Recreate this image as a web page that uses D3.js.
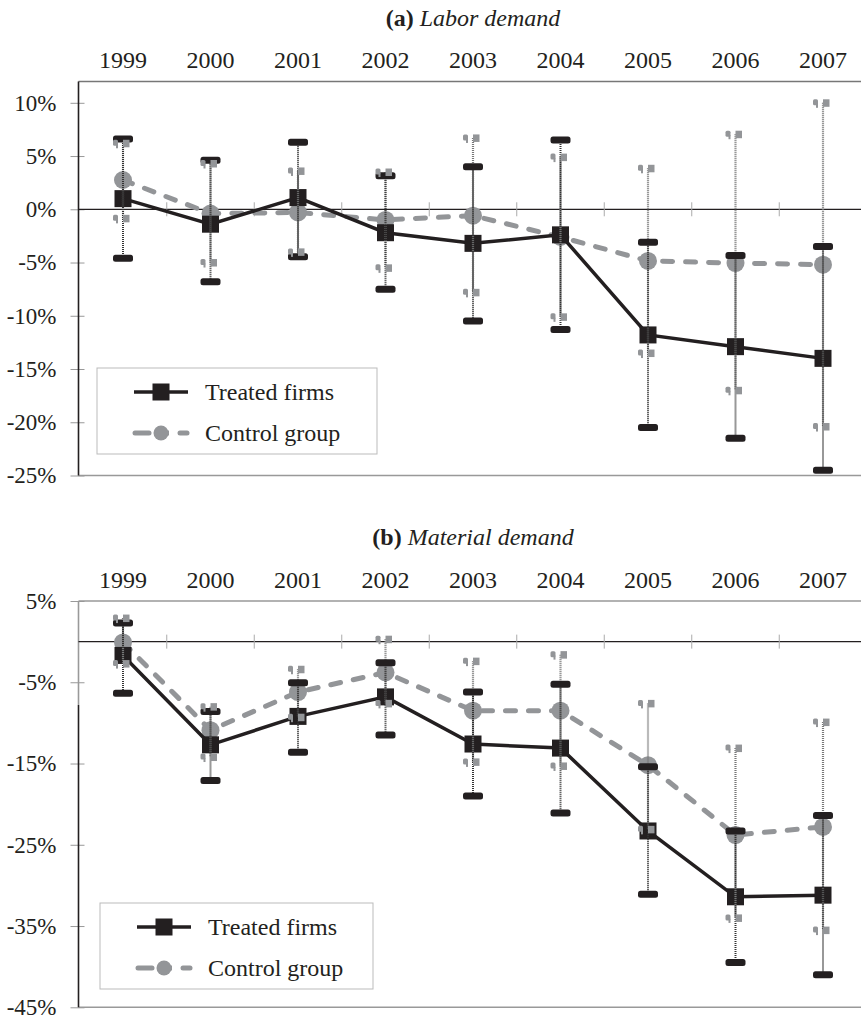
<!DOCTYPE html>
<html>
<head>
<meta charset="utf-8">
<script src="https://cdn.jsdelivr.net/npm/d3@7"></script>
<style>body{margin:0;background:#fff}</style>
</head>
<body>
<div id="chart"></div>
<script>
// categories
const years = ["1999","2000","2001","2002","2003","2004","2005","2006","2007"];

// (a) labor demand, in %
const laborTreated   = [1.0, -1.4, 1.1, -2.2, -3.2, -2.4, -11.8, -12.9, -14.0];
const laborTreatedLo = [-4.6, -6.8, -4.45, -7.5, -10.5, -11.3, -20.5, -21.5, -24.5];
const laborTreatedHi = [6.6, 4.6, 6.3, 3.15, 4.0, 6.5, -3.1, -4.35, -3.5];
const laborControl   = [2.75, -0.4, -0.3, -1.0, -0.6, -2.6, -4.85, -5.05, -5.2];
const laborControlLo = [-0.85, -5.0, -4.0, -5.5, -7.8, -10.1, -13.5, -17.0, -20.4];
const laborControlHi = [6.2, 4.3, 3.6, 3.5, 6.7, 4.9, 3.85, 7.05, 10.0];
const laborTicks = [10, 5, 0, -5, -10, -15, -20, -25];

// (b) material demand, in %
const matTreated   = [-1.7, -12.7, -9.2, -6.8, -12.6, -13.1, -23.3, -31.4, -31.2];
const matTreatedLo = [-6.35, -17.1, -13.6, -11.5, -19.0, -21.1, -31.1, -39.5, -41.0];
const matTreatedHi = [2.3, -8.6, -5.05, -2.6, -6.2, -5.25, -15.4, -23.3, -21.4];
const matControl   = [-0.1, -10.9, -6.2, -3.8, -8.5, -8.5, -15.2, -23.8, -22.8];
const matControlLo = [-2.7, -14.2, -9.3, -7.6, -14.8, -15.3, -23.1, -34.0, -35.5];
const matControlHi = [2.9, -8.0, -3.4, 0.3, -2.4, -1.6, -7.6, -13.1, -9.9];
const matTicks = [5, -5, -15, -25, -35, -45];

const seriesNames = ["Treated firms", "Control group"];

const black = "#231f20", gray = "#939598";

const svg = d3.select("#chart").append("svg")
  .attr("width", 861).attr("height", 1020);

const x = d3.scaleBand().domain(years).range([79.25, 866.75]);
const cx = d => x(d) + x.bandwidth() / 2;
const left = 78.5, right = 861;

function drawPanel(p) {
  const y = d3.scaleLinear().domain(p.domain).range([p.bottom, p.top]);
  const g = svg.append("g");

  // title
  const t = g.append("text").attr("class", "big")
    .attr("x", (x.range()[0] + x.range()[1]) / 2)
    .attr("y", p.titleY)
    .attr("text-anchor", "middle")
    .attr("fill", black);
  t.append("tspan").attr("font-weight", "bold").text(p.label + " ");
  t.append("tspan").attr("font-style", "italic").text(p.title);

  // year labels on top
  g.append("g")
    .attr("transform", `translate(0,${p.top})`)
    .call(d3.axisTop(x).tickSize(0).tickPadding(13.5))
    .call(a => a.select(".domain").remove())
    .selectAll("text").attr("class", "big").attr("fill", black);

  // y axis
  g.append("g")
    .attr("transform", `translate(${left},0)`)
    .call(d3.axisLeft(y).tickValues(p.ticks).tickFormat(d => d + "%").tickSize(8).tickPadding(14))
    .call(a => a.select(".domain").remove())
    .call(a => a.selectAll(".tick line").attr("x1", 6).attr("stroke", "#999"))
    .selectAll("text").attr("fill", black);

  // frame
  g.append("line").attr("x1", left).attr("x2", right).attr("y1", p.top).attr("y2", p.top)
    .attr("stroke", p.topColor).attr("stroke-width", 1.6);
  g.append("line").attr("x1", left).attr("x2", right).attr("y1", p.bottom).attr("y2", p.bottom)
    .attr("stroke", "#999").attr("stroke-width", 1.6);
  g.append("line").attr("x1", left).attr("x2", left).attr("y1", p.top).attr("y2", y(p.axisBreak))
    .attr("stroke", p.axisTopColor).attr("stroke-width", 1.6);
  g.append("line").attr("x1", left).attr("x2", left).attr("y1", y(p.axisBreak)).attr("y2", p.bottom)
    .attr("stroke", black).attr("stroke-width", 1.6);

  // zero line with category ticks
  g.append("line").attr("x1", left).attr("x2", right).attr("y1", y(0)).attr("y2", y(0))
    .attr("stroke", black).attr("stroke-width", 1.2);
  g.append("g").selectAll("line").data(years.slice(1)).join("line")
    .attr("x1", d => x(d)).attr("x2", d => x(d))
    .attr("y1", y(0) - 7).attr("y2", y(0) + 7)
    .attr("stroke", "#aaa").attr("stroke-width", 1);

  const line = d3.line().x((d, i) => cx(years[i])).y(d => y(d));

  // control line + markers
  g.append("path").datum(p.control).attr("d", line)
    .attr("fill", "none").attr("stroke", gray).attr("stroke-width", 5)
    .attr("stroke-dasharray", "10,13").attr("stroke-linecap", "round");
  g.append("g").selectAll("circle").data(p.control).join("circle")
    .attr("cx", (d, i) => cx(years[i])).attr("cy", d => y(d)).attr("r", 9)
    .attr("fill", gray);

  // treated line + markers
  g.append("path").datum(p.treated).attr("d", line)
    .attr("fill", "none").attr("stroke", black).attr("stroke-width", 3.5);
  g.append("g").selectAll("rect").data(p.treated).join("rect")
    .attr("x", (d, i) => cx(years[i]) - 8.5).attr("y", d => y(d) - 8.5)
    .attr("width", 17).attr("height", 17).attr("fill", black);

  // whiskers
  g.append("g").selectAll("line").data(years).join("line")
    .attr("x1", d => cx(d)).attr("x2", d => cx(d))
    .attr("y1", (d, i) => y(p.controlHi[i])).attr("y2", (d, i) => y(p.controlLo[i]))
    .attr("stroke", "#777").attr("stroke-width", 2.2).attr("stroke-dasharray", "1,1");
  g.append("g").selectAll("line").data(years).join("line")
    .attr("x1", d => cx(d)).attr("x2", d => cx(d))
    .attr("y1", (d, i) => y(p.treatedHi[i])).attr("y2", (d, i) => y(p.treatedLo[i]))
    .attr("stroke", "#333").attr("stroke-width", 2).attr("stroke-dasharray", "1,1");

  // black caps
  const caps = years.flatMap((d, i) => [[d, p.treatedHi[i]], [d, p.treatedLo[i]]]);
  g.append("g").selectAll("rect").data(caps).join("rect")
    .attr("x", d => cx(d[0]) - 10).attr("y", d => y(d[1]) - 3.5)
    .attr("width", 20).attr("height", 7).attr("rx", 2.5)
    .attr("fill", black);

  // gray caps (broken look)
  const gcaps = years.flatMap((d, i) => [[d, p.controlHi[i]], [d, p.controlLo[i]]]);
  const gc = g.append("g").selectAll("g").data(gcaps).join("g")
    .attr("transform", d => `translate(${cx(d[0])},${y(d[1])})`)
    .attr("fill", gray);
  gc.append("rect").attr("x", -10).attr("y", -3.5).attr("width", 5).attr("height", 6).attr("rx", 1.5);
  gc.append("rect").attr("x", -7).attr("y", 1).attr("width", 2).attr("height", 4);
  gc.append("rect").attr("x", 0).attr("y", -3.5).attr("width", 6.5).attr("height", 7.5);

  // legend
  const L = p.legend;
  const lg = g.append("g").attr("transform", `translate(${L.x},${L.y})`);
  lg.append("rect").attr("width", L.w).attr("height", L.h)
    .attr("fill", "#fff").attr("stroke", "#bbb").attr("stroke-width", 1);
  lg.append("line").attr("x1", 37).attr("x2", 91).attr("y1", 24).attr("y2", 24)
    .attr("stroke", black).attr("stroke-width", 3.5);
  lg.append("rect").attr("x", 55.5).attr("y", 15.5).attr("width", 17).attr("height", 17).attr("fill", black);
  lg.append("text").attr("class", "big").attr("x", 108).attr("y", 31.5).attr("fill", black).text(seriesNames[0]);
  lg.append("line").attr("x1", 38).attr("x2", 52).attr("y1", 65).attr("y2", 65)
    .attr("stroke", gray).attr("stroke-width", 5).attr("stroke-linecap", "round");
  lg.append("line").attr("x1", 83).attr("x2", 90).attr("y1", 65).attr("y2", 65)
    .attr("stroke", gray).attr("stroke-width", 5).attr("stroke-linecap", "round");
  lg.append("line").attr("x1", 60).attr("x2", 72).attr("y1", 65).attr("y2", 65)
    .attr("stroke", gray).attr("stroke-width", 5);
  lg.append("circle").attr("cx", 64).attr("cy", 65).attr("r", 7.5).attr("fill", gray);
  lg.append("text").attr("class", "big").attr("x", 108).attr("y", 73).attr("fill", black).text(seriesNames[1]);
}

drawPanel({
  label: "(a)", title: "Labor demand", titleY: 26,
  domain: [-25, 12], top: 81.5, bottom: 475.5, ticks: laborTicks,
  topColor: "#777", axisTopColor: black, axisBreak: 12,
  treated: laborTreated, treatedLo: laborTreatedLo, treatedHi: laborTreatedHi,
  control: laborControl, controlLo: laborControlLo, controlHi: laborControlHi,
  legend: {x: 97, y: 368, w: 280, h: 86}
});

drawPanel({
  label: "(b)", title: "Material demand", titleY: 545,
  domain: [-45, 5], top: 601, bottom: 1007.3, ticks: matTicks,
  topColor: "#999", axisTopColor: "#999", axisBreak: -7.8,
  treated: matTreated, treatedLo: matTreatedLo, treatedHi: matTreatedHi,
  control: matControl, controlLo: matControlLo, controlHi: matControlHi,
  legend: {x: 100, y: 903, w: 273, h: 86}
});

// one serif face for every label
svg.selectAll("text")
  .style("font-family", '"Liberation Serif"')
  .style("font-size", "23px");
svg.selectAll("text.big").style("font-size", "24px");
</script>
</body>
</html>
